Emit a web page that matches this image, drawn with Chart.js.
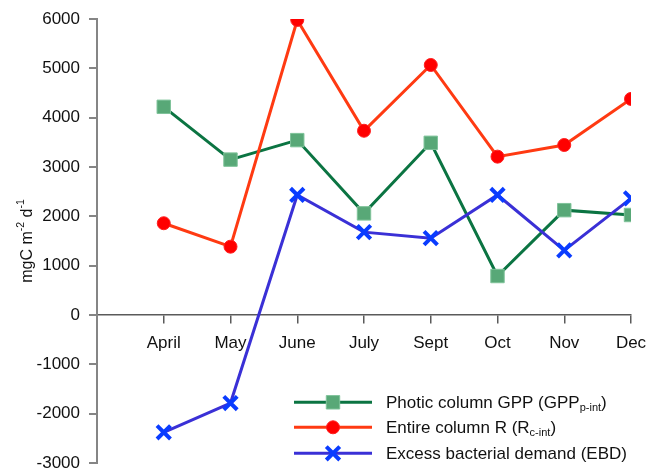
<!DOCTYPE html>
<html><head><meta charset="utf-8">
<script src="https://cdn.jsdelivr.net/npm/chart.js@4/dist/chart.umd.min.js"></script>
<style>html,body{margin:0;padding:0;background:#fff;}#wrap{width:646px;height:469px;}</style>
</head><body><div id="wrap"><canvas id="c" width="646" height="469"></canvas></div>
<script>
const categories = ['April', 'May', 'June', 'July', 'Sept', 'Oct', 'Nov', 'Dec'];
const gppValues = [4220, 3150, 3545, 2060, 3490, 790, 2125, 2027];
const rValues = [1860, 1385, 5980, 3735, 5068, 3210, 3446, 4380];
const ebdValues = [-2378, -1785, 2433, 1680, 1558, 2433, 1310, 2365];
const yMin = -3000, yMax = 6000, yStep = 1000;
const yTitleParts = [['mgC m', 0], ['-2', 1], [' d', 0], ['-1', 1]];
const legendItems = [
  [['Photic column GPP (GPP', 0], ['p-int', 1], [')', 0]],
  [['Entire column R (R', 0], ['c-int', 1], [')', 0]],
  [['Excess bacterial demand (EBD)', 0]]
];

const FONT = '"Liberation Sans", Arial, sans-serif';
const toXY = arr => arr.map((v, i) => ({x: i + 1, y: v}));

const styles = [
  {line: '#0b7442', fill: '#58a877', border: '#7fc39a', shape: 'rect', r: 9.5, bw: 1},
  {line: '#ff3a12', fill: '#ff0000', border: '#ff2020', shape: 'circle', r: 6.5, bw: 1},
  {line: '#3a30d6', fill: '#0a3cff', border: '#0a3cff', shape: 'crossRot', r: 9.5, bw: 4}
];

function ds(label, data, s, order) {
  return {
    label, data: toXY(data), order,
    borderColor: s.line, borderWidth: 3, tension: 0,
    pointStyle: s.shape, pointRadius: s.r, pointHoverRadius: s.r,
    pointBackgroundColor: s.fill, pointBorderColor: s.border, pointBorderWidth: s.bw
  };
}

function drawParts(ctx, parts, x, y, mainSize, subSize, dyFor) {
  let cx = x;
  for (const [t, k] of parts) {
    ctx.font = (k ? subSize : mainSize) + 'px ' + FONT;
    ctx.fillText(t, cx, y + (k ? dyFor : 0));
    cx += ctx.measureText(t).width;
  }
}
function partsWidth(ctx, parts, mainSize, subSize) {
  let w = 0;
  for (const [t, k] of parts) {
    ctx.font = (k ? subSize : mainSize) + 'px ' + FONT;
    w += ctx.measureText(t).width;
  }
  return w;
}

const decor = {
  id: 'decor',
  afterDraw(chart) {
    const ctx = chart.ctx;
    const ys = chart.scales.y;
    ctx.save();
    ctx.fillStyle = '#111';
    ctx.textBaseline = 'alphabetic';
    ctx.textAlign = 'left';
    const cy = (ys.top + ys.bottom) / 2;
    ctx.translate(32, cy);
    ctx.rotate(-Math.PI / 2);
    const w = partsWidth(ctx, yTitleParts, 16, 10.5);
    drawParts(ctx, yTitleParts, -w / 2, 0, 16, 10.5, -8.5);
    ctx.restore();
    const rowY = [402.3, 427.3, 453.3];
    const x1 = 294, x2 = 372, mx = 333, tx = 386;
    legendItems.forEach((parts, i) => {
      const s = styles[i];
      const y = rowY[i];
      ctx.save();
      ctx.strokeStyle = s.line; ctx.lineWidth = 3;
      ctx.beginPath(); ctx.moveTo(x1, y); ctx.lineTo(x2, y); ctx.stroke();
      ctx.fillStyle = s.fill; ctx.strokeStyle = s.border; ctx.lineWidth = s.bw;
      if (s.shape === 'rect') {
        const h = s.r * Math.SQRT1_2;
        ctx.beginPath(); ctx.rect(mx - h, y - h, 2 * h, 2 * h); ctx.fill(); ctx.stroke();
      } else if (s.shape === 'circle') {
        ctx.beginPath(); ctx.arc(mx, y, s.r, 0, Math.PI * 2); ctx.fill(); ctx.stroke();
      } else {
        const o = s.r * Math.SQRT1_2;
        ctx.beginPath();
        ctx.moveTo(mx - o, y - o); ctx.lineTo(mx + o, y + o);
        ctx.moveTo(mx - o, y + o); ctx.lineTo(mx + o, y - o);
        ctx.stroke();
      }
      ctx.fillStyle = '#111';
      ctx.textBaseline = 'alphabetic';
      drawParts(ctx, parts, tx, y + 5.6, 17, 11, 3.5);
      ctx.restore();
    });
  }
};

new Chart(document.getElementById('c'), {
  type: 'line',
  data: {
    datasets: [
      ds('Photic column GPP (GPPp-int)', gppValues, styles[0], 2),
      ds('Entire column R (Rc-int)', rValues, styles[1], 1),
      ds('Excess bacterial demand (EBD)', ebdValues, styles[2], 0)
    ]
  },
  options: {
    responsive: false,
    animation: false,
    devicePixelRatio: 1,
    layout: {autoPadding: false, padding: {top: 19, right: 15, bottom: 6, left: 0}},
    plugins: {legend: {display: false}, tooltip: {enabled: false}},
    scales: {
      x: {
        type: 'linear', position: {y: 0}, min: 0, max: categories.length,
        ticks: {
          stepSize: 1, autoSkip: false, maxRotation: 0, padding: 10,
          color: '#111', font: {family: FONT, size: 17},
          callback: v => categories[v - 1] || ''
        },
        grid: {drawOnChartArea: false, drawTicks: true, tickLength: 8, color: '#5a5a5a', lineWidth: 1.5},
        border: {display: true, color: '#5a5a5a', width: 1.5},
        afterFit(s) { s.height = 0; s.paddingLeft = 0; s.paddingRight = 0; }
      },
      y: {
        type: 'linear', position: 'left', min: yMin, max: yMax,
        ticks: {stepSize: yStep, padding: 9, color: '#111', font: {family: FONT, size: 17},
          callback: v => String(v)},
        grid: {drawOnChartArea: false, drawTicks: true, tickLength: 8, color: '#858585', lineWidth: 2},
        border: {display: true, color: '#858585', width: 2},
        afterFit(s) { s.width = 97; s.paddingTop = 0; s.paddingBottom = 0; }
      }
    }
  },
  plugins: [decor]
});
</script></body></html>
